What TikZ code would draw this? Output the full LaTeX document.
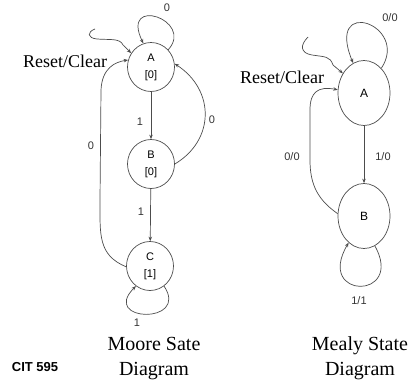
\documentclass[tikz,border=0pt]{standalone}
\usepackage{fontspec}
\setmainfont{Liberation Serif}
\setsansfont{Liberation Sans}
\usetikzlibrary{arrows.meta,shapes.geometric}
\begin{document}
\begin{tikzpicture}[x=1pt,y=-1pt,
  wire/.style={draw=black!70, line width=0.7pt},
  arr/.style={wire,-{Stealth[length=4.5pt,width=3.5pt]}},
  mstate/.style={ellipse, draw=black!70, line width=0.7pt, minimum width=47pt,
    minimum height=49pt, inner sep=0pt, align=center,
    font=\sffamily\fontsize{11}{17}\selectfont},
  ystate/.style={ellipse, draw=black!70, line width=0.7pt, minimum width=52pt,
    minimum height=65pt, inner sep=0pt, font=\sffamily\fontsize{12}{14}\selectfont},
  lbl/.style={font=\sffamily\fontsize{11}{13}\selectfont, text=black!80, inner sep=0pt},
  rst/.style={font=\fontsize{18}{20}\selectfont, inner sep=0pt},
  ttl/.style={font=\fontsize{20}{25}\selectfont, align=center, inner sep=0pt}]
\useasboundingbox (0,0) rectangle (409,383);

% ---------------- Moore machine ----------------
\node[mstate] (mA) at (151,67)  {A\\{[0]}};
\node[mstate] (mB) at (151,164) {B\\{[0]}};
\node[mstate] (mC) at (150,266) {C\\{[1]}};

\node[rst] (mRtxt) at (65,61) {Reset/Clear};
\coordinate (mR) at (95,29);
\draw[arr] (mR) .. controls (87,32) and (87,38) .. (97,39)
  .. controls (110,40) and (120,38) .. (123,45) -- (mA.145);

\draw[arr] (mA.45) .. controls (195,20) and (120,-5) .. (mA.108);
\node[lbl] (mL0) at (167,8) {0};

\draw[arr] (mA) -- (mB);
\node[lbl] (mL1) at (140,122) {1};

\draw[arr] (mB.east) .. controls (215,140) and (215,90) .. (mA.8);
\node[lbl] (mL2) at (212,120) {0};

\draw[arr] (mB) -- (mC);
\node[lbl] (mL3) at (141,212) {1};

\draw[arr] (mC.182) .. controls (98,255) and (100,235) .. (100,200)
  -- (101,90) .. controls (102,68) and (115,62) .. (mA.163);
\node[lbl] (mL4) at (91,146) {0};

\draw[arr] (mC.-55) .. controls (190,325) and (100,322) .. (mC.235);
\node[lbl] (mL5) at (137,323) {1};

\node[ttl] (mT) at (154,359) {Moore Sate\\Diagram};
\node[font=\sffamily\bfseries\fontsize{13}{15}\selectfont, inner sep=0pt] (cit) at (35,367) {CIT 595};

% ---------------- Mealy machine ----------------
\node[ystate] (yA) at (364,93)  {A};
\node[ystate] (yB) at (364,216) {B};

\node[rst] (yRtxt) at (282,77) {Reset/Clear};
\coordinate (yR) at (308,37);
\draw[arr] (yR) .. controls (300,45) and (300,53) .. (312,55)
  .. controls (325,57) and (330,56) .. (333,65) -- (yA.137);

\draw[arr] (yA.55) .. controls (410,25) and (325,-5) .. (yA.110);
\node[lbl] (yL0) at (390,18) {0/0};

\draw[arr] (yA) -- (yB);
\node[lbl] (yL1) at (383,157) {1/0};

\draw[arr] (yB.175) .. controls (318,200) and (310,185) .. (310,160)
  -- (310,110) .. controls (310,92) and (318,86) .. (yA.173);
\node[lbl] (yL2) at (292,157) {0/0};

\draw[arr] (yB.290) .. controls (405,300) and (315,300) .. (yB.240);
\node[lbl] (yL3) at (359,301) {1/1};

\node[ttl] (yT) at (360,358) {Mealy State\\Diagram};
\end{tikzpicture}
\end{document}
